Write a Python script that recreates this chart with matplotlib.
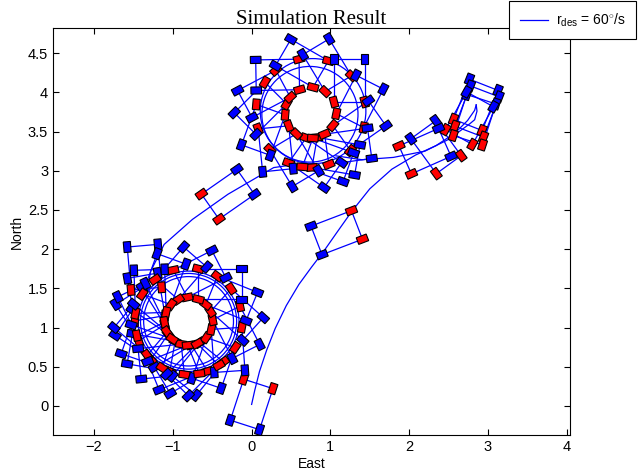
import numpy as np
import matplotlib.pyplot as plt
from matplotlib.patches import Rectangle, Arc
from matplotlib.lines import Line2D

plt.rcParams['font.family'] = ['Liberation Sans', 'DejaVu Sans']
plt.rcParams['mathtext.fontset'] = 'custom'
plt.rcParams['mathtext.rm'] = 'Liberation Sans'
plt.rcParams['mathtext.it'] = 'Liberation Sans:italic'

# CG path: launch from the origin out to the stop in the north-east
run_x = [0.00, 0.04, 0.10, 0.19, 0.30, 0.44, 0.60, 0.76, 0.92, 1.08, 1.27, 1.50, 1.78, 2.08, 2.34, 2.58, 2.74, 2.83, 2.85]
run_y = [0.02, 0.20, 0.44, 0.71, 0.99, 1.28, 1.55, 1.77, 1.98, 2.21, 2.48, 2.77, 3.02, 3.20, 3.32, 3.48, 3.64, 3.77, 3.84]
# slide back west into the upper circle
back_x = [2.85, 2.86, 2.83, 2.77, 2.50, 2.20, 1.80, 1.40, 1.07]
back_y = [3.84, 3.76, 3.65, 3.60, 3.40, 3.25, 3.17, 3.14, 3.19]
# link from the upper circle down to the lower one
link_x = [0.69, 0.28, -0.30, -0.75, -1.11, -1.28, -1.34]
link_y = [3.10, 3.04, 2.70, 2.38, 2.06, 1.72, 1.39]

# circle parts of the CG path (centre, radius, start/end angle in deg)
arc_cx = [0.78, 0.74, -0.80, -0.80, -0.80]
arc_cy = [3.76, 3.72, 1.08, 1.08, 1.08]
arc_r = [0.67, 0.61, 0.57, 0.61, 0.64]
arc_t0 = [0, 0, 0, 0, 0]
arc_t1 = [360, 360, 360, 360, 360]

# car poses off the circles: CG x, y, heading, steer (deg)
pose_x = [0.00, 1.08, 2.34, 2.845, 2.86, 2.83, 2.765, 2.20, -0.30, -1.36]
pose_y = [0.02, 2.21, 3.30, 3.84, 3.755, 3.65, 3.67, 3.25, 2.70, 1.77]
pose_psi = [72, 21, -54, -111.6, -111, -108, -119, -156, 215, -85]
pose_delta = [0, 0, 0, 0, 0, 0, 0, 0, 0, 0]

# car poses on the circles, given as angle around the circle centre (deg)
upper_c = (0.75, 3.74)
upper_r = 0.64
upper_phi = [300, 275, 251, 226, 200, 175, 158, 131, 100, 71, 40, 13, 345, 318, 290]
lower_c = (-0.80, 1.08)
lower_r = 0.62
lower_phi = [150, 172, 196, 220, 236, 261, 281, 301, 324, 347, 8, 28, 50, 77, 99,
             120, 142, 166, 190, 211, 252, 275]
slip = 40      # heading offset towards the centre
steer = 15     # counter steer on the circles

half_wb = 0.275
half_tr = 0.195
wheel_l = 0.135
wheel_w = 0.09

# collect every pose
poses = list(zip(pose_x, pose_y, pose_psi, pose_delta))
for phi in upper_phi:      # clockwise circle
    p = np.radians(phi)
    poses.append((upper_c[0] + upper_r * np.cos(p), upper_c[1] + upper_r * np.sin(p),
                  phi - 90 - slip, steer))
for phi in lower_phi:      # counter clockwise circle
    p = np.radians(phi)
    poses.append((lower_c[0] + lower_r * np.cos(p), lower_c[1] + lower_r * np.sin(p),
                  phi + 90 + slip, -steer))

fig = plt.figure(figsize=(6.38, 4.74), dpi=100)
ax = fig.add_axes([0.0831, 0.0823, 0.8103, 0.8586])

ax.plot(run_x, run_y, color='b', lw=0.9)
ax.plot(back_x, back_y, color='b', lw=0.9)
ax.plot(link_x, link_y, color='b', lw=0.9)
for cx, cy, r, t0, t1 in zip(arc_cx, arc_cy, arc_r, arc_t0, arc_t1):
    ax.add_patch(Arc((cx, cy), 2 * r, 2 * r, theta1=t0, theta2=t1, color='b', lw=0.9))


def draw_car(ax, x, y, psi, delta):
    h = np.array([np.cos(np.radians(psi)), np.sin(np.radians(psi))])
    n = np.array([-h[1], h[0]])
    c = np.array([x, y])
    rl = c - half_wb * h + half_tr * n
    rr = c - half_wb * h - half_tr * n
    fl = c + half_wb * h + half_tr * n
    fr = c + half_wb * h - half_tr * n
    frame = np.array([rl, fl, fr, rr, rl])
    ax.plot(frame[:, 0], frame[:, 1], color='b', lw=0.9, zorder=2)
    for pos, ang, col in [(rl, psi, 'b'), (rr, psi, 'b'),
                          (fl, psi + delta, 'r'), (fr, psi + delta, 'r')]:
        ax.add_patch(Rectangle((pos[0] - wheel_l / 2, pos[1] - wheel_w / 2), wheel_l, wheel_w,
                               angle=ang, rotation_point='center', facecolor=col,
                               edgecolor='black', lw=0.8, zorder=3))


for x, y, psi, delta in poses:
    draw_car(ax, x, y, psi, delta)

ax.set_xlim(-2.52, 4.04)
ax.set_ylim(-0.37, 4.82)
ax.set_xticks([-2, -1, 0, 1, 2, 3, 4])
ax.set_yticks([0, 0.5, 1, 1.5, 2, 2.5, 3, 3.5, 4, 4.5])
ax.set_yticklabels(['0', '0.5', '1', '1.5', '2', '2.5', '3', '3.5', '4', '4.5'])
ax.tick_params(direction='in', top=True, right=True, length=4, labelsize=10.5)
for s in ax.spines.values():
    s.set_linewidth(0.8)
ax.set_xlabel('East', fontsize=10, labelpad=2)
ax.set_ylabel('North', fontsize=10, labelpad=3)
ax.set_title('Simulation Result', fontfamily='Liberation Serif', fontsize=15, pad=3)

leg = fig.legend([Line2D([0], [0], color='b', lw=0.9)],
                 [r'r$_{\mathregular{des}}$ = 60$^{\circ}$/s'],
                 loc='upper right', bbox_to_anchor=(0.997, 0.998), borderaxespad=0.0,
                 fontsize=10, fancybox=False, edgecolor='black', framealpha=1,
                 handlelength=2.0, handletextpad=0.6, borderpad=0.75)
leg.get_frame().set_linewidth(0.8)

fig.savefig('out.png', dpi=100)
